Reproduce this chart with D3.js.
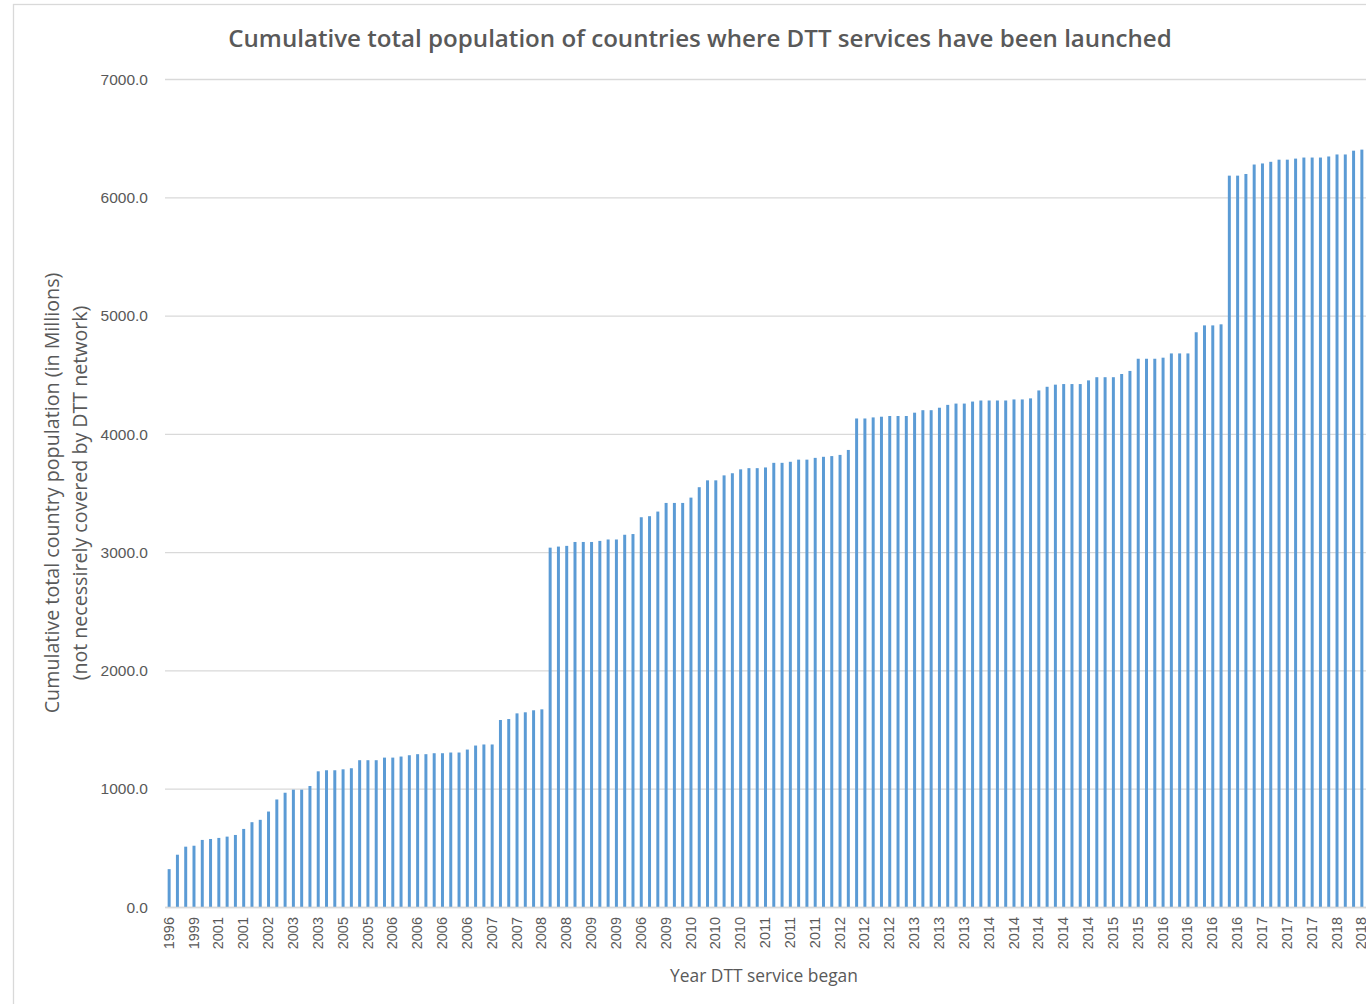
<!DOCTYPE html>
<html>
<head>
<meta charset="utf-8">
<script src="https://cdn.jsdelivr.net/npm/d3@7"></script>
<style>
  body { margin: 0; background: #fff; }
  svg { display: block; font-family: "Open Sans", sans-serif; }
</style>
</head>
<body>
<div id="chart"></div>
<script>
// year DTT service began, one entry per country (only every third is printed on the axis)
const years = [
  1996, 1997, 1998,  1999, 2000, 2000,  2001, 2001, 2001,  2001, 2002, 2002,
  2002, 2002, 2003,  2003, 2003, 2003,  2003, 2004, 2004,  2005, 2005, 2005,
  2005, 2005, 2006,  2006, 2006, 2006,  2006, 2006, 2006,  2006, 2006, 2006,
  2006, 2006, 2007,  2007, 2007, 2007,  2007, 2007, 2008,  2008, 2008, 2008,
  2008, 2008, 2009,  2009, 2009, 2009,  2009, 2009, 2006,  2006, 2009, 2009,
  2009, 2009, 2010,  2010, 2010, 2010,  2010, 2010, 2010,  2010, 2011, 2011,
  2011, 2011, 2011,  2011, 2011, 2011,  2011, 2012, 2012,  2012, 2012, 2012,
  2012, 2012, 2012,  2012, 2013, 2013,  2013, 2013, 2013,  2013, 2013, 2013,
  2013, 2014, 2014,  2014, 2014, 2014,  2014, 2014, 2014,  2014, 2014, 2014,
  2014, 2014, 2014,  2014, 2014, 2015,  2015, 2015, 2015,  2015, 2015, 2016,
  2016, 2016, 2016,  2016, 2016, 2016,  2016, 2016, 2016,  2016, 2017, 2017,
  2017, 2017, 2017,  2017, 2017, 2017,  2017, 2018, 2018,  2018, 2018, 2018,
  2018
];

// cumulative population, millions
const population = [
   320,  442,  510,  518,  567,  575,  584,  595,  609,  660,  717,  737,
   807,  909,  966,  992,  992, 1023, 1147, 1156, 1156, 1164, 1173, 1241,
  1241, 1241, 1263, 1263, 1272, 1283, 1292, 1292, 1300, 1300, 1306, 1306,
  1331, 1365, 1374, 1374, 1581, 1589, 1637, 1646, 1663, 1671, 3038, 3047,
  3053, 3086, 3086, 3086, 3095, 3107, 3107, 3147, 3153, 3295, 3304, 3343,
  3416, 3416, 3416, 3461, 3549, 3607, 3607, 3649, 3667, 3700, 3710, 3710,
  3716, 3755, 3755, 3764, 3782, 3782, 3797, 3806, 3812, 3822, 3864, 4130,
  4130, 4139, 4145, 4151, 4151, 4151, 4179, 4200, 4200, 4221, 4245, 4256,
  4256, 4273, 4282, 4282, 4282, 4282, 4291, 4291, 4300, 4367, 4398, 4416,
  4421, 4421, 4421, 4452, 4479, 4479, 4479, 4506, 4532, 4635, 4635, 4635,
  4644, 4680, 4680, 4680, 4859, 4917, 4917, 4926, 6183, 6183, 6197, 6277,
  6286, 6300, 6318, 6318, 6327, 6336, 6336, 6336, 6345, 6362, 6362, 6394,
  6403
];

const yTicks = [0, 1000, 2000, 3000, 4000, 5000, 6000, 7000];

const title = "Cumulative total population of countries where DTT services have been launched";
const yTitle = ["Cumulative total country population (in Millions)",
                "(not necessirely covered by DTT network)"];
const xTitle = "Year DTT service began";

const W = 1366, H = 1004;
const m = {top: 79, bottom: 97, left: 165, right: 0};
const textCol = "#595959";
const gridCol = "#d9d9d9";

const svg = d3.select("#chart").append("svg")
  .attr("width", W)
  .attr("height", H);

// outer chart frame (runs off the right/bottom edge like the screenshot)
svg.append("rect")
  .attr("x", 13.5).attr("y", 4.5)
  .attr("width", W + 20).attr("height", H + 20)
  .attr("fill", "#fff")
  .attr("stroke", gridCol)
  .attr("stroke-width", 1.3);

const x = d3.scaleBand()
  .domain(d3.range(population.length))
  .range([m.left, W - m.right])
  .paddingInner(0.64)
  .paddingOuter(0.32);

const y = d3.scaleLinear()
  .domain([0, 7000])
  .range([H - m.bottom, m.top]);

// gridlines + y labels
const yAxis = d3.axisLeft(y)
  .tickValues(yTicks)
  .tickFormat(d3.format(".1f"))
  .tickSize(-(W - m.right - m.left))
  .tickPadding(17);

svg.append("g")
  .attr("class", "y axis")
  .attr("transform", `translate(${m.left},0)`)
  .call(yAxis)
  .call(g => g.select(".domain").remove())
  .call(g => g.selectAll(".tick line").attr("stroke", gridCol).attr("stroke-width", 1.3))
  .call(g => g.selectAll(".tick text")
    .attr("fill", textCol)
    .style("font-size", "15.5px")
    .attr("dy", "0.34em"));

svg.append("g")
  .selectAll("rect")
  .data(population)
  .join("rect")
  .attr("x", (d, i) => x(i))
  .attr("y", d => y(d))
  .attr("width", x.bandwidth())
  .attr("height", d => y(0) - y(d))
  .attr("fill", "#5b9bd5");

const xAxis = d3.axisBottom(x)
  .tickValues(x.domain().filter(i => i % 3 === 0))
  .tickFormat(i => years[i])
  .tickSize(0)
  .tickPadding(0);

svg.append("g")
  .attr("class", "x axis")
  .attr("transform", `translate(0,${y(0)})`)
  .call(xAxis)
  .call(g => g.select(".domain").attr("stroke", gridCol).attr("stroke-width", 1.3))
  .call(g => g.selectAll(".tick text")
    .attr("fill", textCol)
    .style("font-size", "14.5px")
    .attr("transform", "rotate(-90)")
    .attr("text-anchor", "end")
    .attr("x", -10)
    .attr("y", -0.5)
    .attr("dy", "0.35em"));

// shrink/grow a text node to a target width
function fit(sel, target){
  const size = parseFloat(sel.style("font-size"));
  const w = sel.node().getComputedTextLength();
  sel.style("font-size", (size * target / w).toFixed(2) + "px");
}

svg.append("text")
  .attr("x", 700).attr("y", 47)
  .attr("text-anchor", "middle")
  .attr("fill", textCol)
  .style("font-size", "24px")
  .style("font-weight", 600)
  .text(title)
  .call(fit, 944);

svg.append("text")
  .attr("x", 764).attr("y", 982)
  .attr("text-anchor", "middle")
  .attr("fill", textCol)
  .style("font-size", "17px")
  .text(xTitle)
  .call(fit, 188);

const yt = svg.append("g")
  .attr("transform", "translate(0,493) rotate(-90)");

yt.append("text")
  .attr("x", 0).attr("y", 59)
  .attr("text-anchor", "middle")
  .attr("fill", textCol)
  .style("font-size", "17px")
  .text(yTitle[0])
  .call(fit, 441);

yt.append("text")
  .attr("x", 0).attr("y", 87)
  .attr("text-anchor", "middle")
  .attr("fill", textCol)
  .style("font-size", "17px")
  .text(yTitle[1])
  .call(fit, 375);
</script>
</body>
</html>
